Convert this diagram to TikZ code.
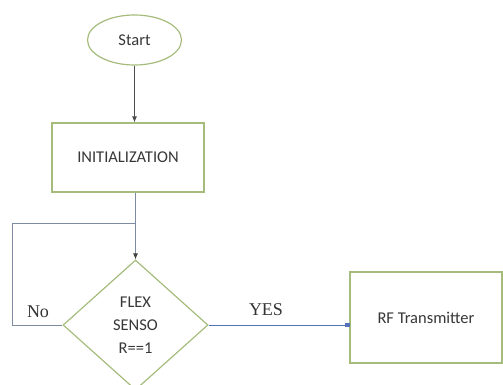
\documentclass[tikz,border=0pt]{standalone}
\usepackage{fontspec}
\setmainfont{Carlito}
\newfontfamily\serifl{Liberation Serif}
\usetikzlibrary{shapes.geometric,arrows.meta}
\definecolor{bordergreen}{RGB}{165,188,125}
\definecolor{linegray}{RGB}{125,138,160}
\definecolor{lineblue}{RGB}{85,115,185}
\definecolor{txt}{RGB}{55,55,55}
\tikzset{
  shapebox/.style={draw=bordergreen, line width=1.2pt, text=txt, font=\fontsize{16.5}{23}\selectfont, inner sep=0pt},
  conn/.style={draw=linegray, line width=0.8pt},
  lbl/.style={font=\serifl\fontsize{18}{20}\selectfont, text=black!80, inner sep=0pt}
}
\begin{document}
\begin{tikzpicture}[x=1pt,y=-1pt]
\useasboundingbox (0,0) rectangle (503,385);
\node[shapebox, ellipse, minimum width=94pt, minimum height=50pt] (start) at (134.5,40) {Start};
\node[shapebox, rectangle, minimum width=152pt, minimum height=69pt] (init) at (128,157.5) {INITIALIZATION};
\node[shapebox, diamond, minimum width=145pt, minimum height=130pt, align=center] (dec) at (135.5,325) {FLEX\\SENSO\\R==1};
\node[shapebox, rectangle, minimum width=152pt, minimum height=91pt] (rf) at (426,317.5) {RF Transmitter};
\draw[conn, -{Latex[length=6pt,width=5pt]}, draw=black!70] (start.south) -- (start.south |- init.north);
\draw[conn, -{Latex[length=6pt,width=5pt,color=black!75]}] (dec.north |- init.south) -- (dec.north);
\coordinate (loopjoin) at (135,223);
\coordinate (loopcorner) at (12,223);
\draw[conn] (dec.west) -- (loopcorner |- dec.west) -- (loopcorner) -- (loopjoin);
\draw[conn, draw=lineblue, -{Square[length=4pt,width=4pt]}] (dec.east) -- (dec.east -| rf.west);
\node[lbl] (no) at (38,312) {No};
\node[lbl] (yes) at (266,310) {YES};
\end{tikzpicture}
\end{document}
